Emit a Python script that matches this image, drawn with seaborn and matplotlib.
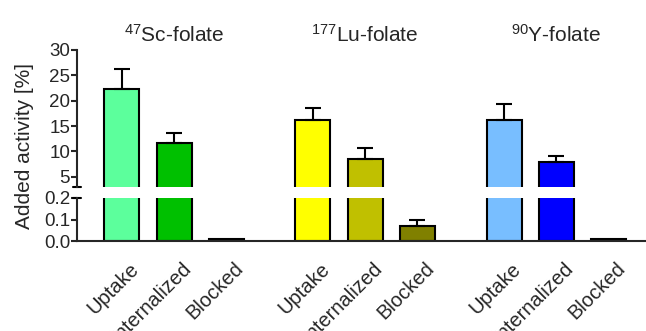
import numpy as np
import pandas as pd
import matplotlib
matplotlib.use('Agg')
import matplotlib.pyplot as plt
from matplotlib.transforms import ScaledTranslation
import seaborn as sns

# datos
compuestos = ['$\\mathregular{^{47}}$Sc-folate', '$\\mathregular{^{177}}$Lu-folate', '$\\mathregular{^{90}}$Y-folate']
condiciones = ['Uptake', 'Internalized', 'Blocked']
valores = [22.25, 11.6, 0.008,
           16.2, 8.5, 0.068,
           16.3, 7.95, 0.008]
errores = [3.95, 2.1, 0.0,
           2.4, 2.2, 0.032,
           3.1, 1.25, 0.0]
colores = ['#5CFF9C', '#00C000', '#005000',
           '#FFFF00', '#C0C000', '#808000',
           '#78BEFF', '#0000FF', '#000080']

sns.set_style('ticks')
plt.rcParams['font.family'] = ['Liberation Sans', 'DejaVu Sans']
plt.rcParams['mathtext.fontset'] = 'custom'
plt.rcParams['mathtext.rm'] = 'Liberation Sans'

PASO_GRUPO = 3.66
posiciones = [g * PASO_GRUPO + i for g in range(len(compuestos)) for i in range(len(condiciones))]
centros = [g * PASO_GRUPO + 1 for g in range(len(compuestos))]

df = pd.DataFrame({
    'pos': posiciones,
    'valor': valores,
    'err': errores,
    'clave': [f'b{k}' for k in range(len(valores))],
})

fig = plt.figure(figsize=(6.46, 3.31), dpi=100)
ax_top = fig.add_axes([77 / 646, 1 - 187 / 331, 568 / 646, 137 / 331])
ax_bot = fig.add_axes([77 / 646, 1 - 241 / 331, 568 / 646, 43 / 331])

lw = 1.5
for ax in (ax_top, ax_bot):
    sns.barplot(data=df, x='pos', y='valor', hue='clave', palette=colores,
                native_scale=True, dodge=False, width=0.67, errorbar=None, saturation=1,
                edgecolor='black', linewidth=lw, legend=False, ax=ax)
    con_err = df[df['err'] > 0]
    ax.errorbar(con_err['pos'], con_err['valor'],
                yerr=[np.zeros(len(con_err)), con_err['err']],
                fmt='none', ecolor='black', elinewidth=lw, capsize=6, capthick=lw, zorder=1)
    ax.set_xlim(-0.86, 10.02)
    ax.set_xlabel('')
    ax.set_ylabel('')
    ax.tick_params(axis='y', direction='out', length=4, width=lw, labelsize=13.5, pad=1)
    for s in ax.spines.values():
        s.set_linewidth(lw)
    ax.spines['right'].set_visible(False)
    ax.spines['top'].set_visible(False)

# eje superior
ax_top.set_ylim(3, 30)
ax_top.set_yticks([5, 10, 15, 20, 25, 30])
ax_top.spines['bottom'].set_visible(False)
ax_top.tick_params(axis='x', bottom=False, labelbottom=False)

# eje inferior
ax_bot.set_ylim(0, 0.2)
ax_bot.set_yticks([0.0, 0.1, 0.2])
ax_bot.set_yticklabels(['0.0', '0.1', '0.2'])
ax_bot.set_xticks(posiciones)
ax_bot.set_xticklabels(condiciones * len(compuestos), rotation=45, ha='right',
                       va='top', rotation_mode='anchor', fontsize=14.5)
ax_bot.set_xticks(centros, minor=True)
ax_bot.tick_params(axis='x', which='major', length=0, pad=13)
ax_bot.tick_params(axis='x', which='minor', length=5, width=lw, direction='out')
for lbl in ax_bot.get_xticklabels():
    lbl.set_transform(lbl.get_transform() + ScaledTranslation(7 / 100, 0, fig.dpi_scale_trans))

# marcas de corte
d = 4 / 568
ax_top.plot([-d, d], [0, 0], transform=ax_top.transAxes, color='black', lw=lw, clip_on=False)
ax_bot.plot([-d, d], [1, 1], transform=ax_bot.transAxes, color='black', lw=lw, clip_on=False)

# titulos de grupo
for c, nombre in zip(centros, compuestos):
    ax_top.text(c, 30 + 8 / 5.07, nombre, ha='center', va='baseline', fontsize=15, clip_on=False)

fig.text(25 / 646, 1 - 145.5 / 331, 'Added activity [%]', rotation=90,
         ha='center', va='center', fontsize=15)

fig.savefig('out.png', dpi=100)
